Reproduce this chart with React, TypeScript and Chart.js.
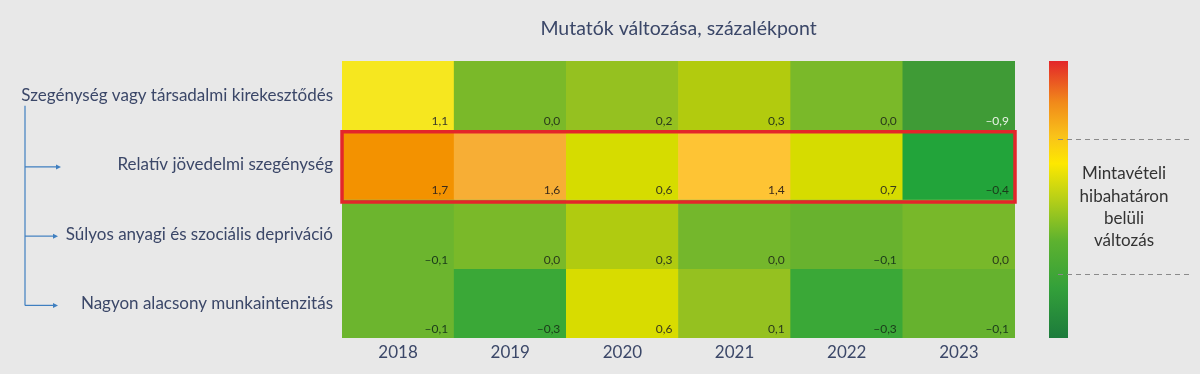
import React, { useEffect, useRef } from "react";
import { Chart, registerables } from "chart.js";

Chart.register(...registerables);

const chartTitle = "Mutatók változása, százalékpont";
const years = ["2018", "2019", "2020", "2021", "2022", "2023"];
const indicators = [
  "Szegénység vagy társadalmi kirekesztődés",
  "Relatív jövedelmi szegénység",
  "Súlyos anyagi és szociális depriváció",
  "Nagyon alacsony munkaintenzitás",
];
const povertyOrExclusion = [1.1, 0.0, 0.2, 0.3, 0.0, -0.9];
const relativeIncomePoverty = [1.7, 1.6, 0.6, 1.4, 0.7, -0.4];
const severeDeprivation = [-0.1, 0.0, 0.3, 0.0, -0.1, 0.0];
const lowWorkIntensity = [-0.1, -0.3, 0.6, 0.1, -0.3, -0.1];
const legendLines = ["Mintavételi", "hibahatáron", "belüli", "változás"];
const highlightedRow = 1;

const rowValues = [povertyOrExclusion, relativeIncomePoverty, severeDeprivation, lowWorkIntensity];

// cell fill colours
const rowColors = [
  ["#f6e71f", "#7ab929", "#95c120", "#b2cb0e", "#7ab929", "#3f9b36"],
  ["#f39200", "#f7ae35", "#d6dc00", "#fec434", "#d6dc00", "#22a43a"],
  ["#6cb52e", "#7ab929", "#b0cb10", "#74b72c", "#68b22e", "#78b82a"],
  ["#6cb52e", "#3aa837", "#d8dc00", "#95c120", "#3aa837", "#66b22e"],
];
const labelColors = [
  ["#3a3a2a", "#2a3a1a", "#2a3a1a", "#2a3a1a", "#2a3a1a", "#e8f2e4"],
  ["#3a2a1a", "#3a2a1a", "#3a3a1a", "#3a2a1a", "#3a3a1a", "#1a3a1a"],
  ["#1a3a1a", "#2a3a1a", "#2a3a1a", "#2a3a1a", "#1a3a1a", "#2a3a1a"],
  ["#1a3a1a", "#1a3a1a", "#3a3a1a", "#2a3a1a", "#1a3a1a", "#1a3a1a"],
];

const TEXT = "#3b4768";
const FONT = "Lato";

const fmt = (v: number) => {
  const s = Math.abs(v).toFixed(1).replace(".", ",");
  return v < 0 ? "\u2013" + s : s;
};

const overlayPlugin = {
  id: "overlay",
  afterDatasetsDraw(chart: any) {
    const ctx = chart.ctx;
    const ys = chart.scales.y;
    ctx.save();
    // value labels
    ctx.font = `12px ${FONT}`;
    ctx.textAlign = "right";
    ctx.textBaseline = "middle";
    rowValues.forEach((vals, r) => {
      const meta = chart.getDatasetMeta(r);
      meta.data.forEach((el: any, i: number) => {
        const p = el.getProps(["x", "y", "base", "width"], true);
        const right = p.x + p.width / 2;
        const bottom = Math.max(p.y, p.base);
        ctx.fillStyle = labelColors[r][i];
        ctx.fillText(fmt(vals[i]), right - 6, bottom - 9);
      });
    });
    // highlight box
    const a = chart.chartArea;
    const t = ys.getPixelForValue(highlightedRow);
    const b = ys.getPixelForValue(highlightedRow + 1);
    ctx.strokeStyle = "#e3262a";
    ctx.lineWidth = 3.5;
    ctx.strokeRect(a.left, t + 1.5, a.right - a.left, b - t + 1);
    ctx.restore();
  },
  afterDraw(chart: any) {
    const ctx = chart.ctx;
    const a = chart.chartArea;
    const ys = chart.scales.y;
    ctx.save();
    // title
    ctx.fillStyle = TEXT;
    ctx.font = `19.5px ${FONT}`;
    ctx.textAlign = "center";
    ctx.textBaseline = "middle";
    ctx.fillText(chartTitle, (a.left + a.right) / 2, 29);

    // tree connectors
    ctx.strokeStyle = "#3f7fc0";
    ctx.fillStyle = "#3f7fc0";
    ctx.lineWidth = 1.2;
    const vx = 25;
    const top = ys.getPixelForValue(0.5) + 10;
    const lastY = ys.getPixelForValue(indicators.length - 0.5) + 2;
    ctx.beginPath();
    ctx.moveTo(vx, top);
    ctx.lineTo(vx, lastY);
    ctx.stroke();
    for (let r = 1; r < indicators.length; r++) {
      const yy = ys.getPixelForValue(r + 0.5) + 2;
      const ex = r === 1 ? 61 : 58;
      ctx.beginPath();
      ctx.moveTo(vx, yy);
      ctx.lineTo(ex - 3, yy);
      ctx.stroke();
      ctx.beginPath();
      ctx.moveTo(ex, yy);
      ctx.lineTo(ex - 5, yy - 2.5);
      ctx.lineTo(ex - 5, yy + 2.5);
      ctx.closePath();
      ctx.fill();
    }

    // colour legend bar
    const bx = 1049;
    const bw = 19;
    const g = ctx.createLinearGradient(0, a.top, 0, a.bottom);
    g.addColorStop(0, "#e3262a");
    g.addColorStop(0.15, "#f18a1a");
    g.addColorStop(0.27, "#f9c21a");
    g.addColorStop(0.37, "#fde800");
    g.addColorStop(0.5, "#b6cf18");
    g.addColorStop(0.65, "#5db22f");
    g.addColorStop(0.82, "#33a03a");
    g.addColorStop(1, "#1c7b3c");
    ctx.fillStyle = g;
    ctx.fillRect(bx, a.top, bw, a.bottom - a.top);

    // dashed lines
    ctx.strokeStyle = "#8a8a8a";
    ctx.lineWidth = 1;
    ctx.setLineDash([5, 4]);
    [139.5, 274.5].forEach((yy) => {
      ctx.beginPath();
      ctx.moveTo(1058, yy);
      ctx.lineTo(1192, yy);
      ctx.stroke();
    });
    ctx.setLineDash([]);

    // legend text
    ctx.fillStyle = "#333333";
    ctx.font = `17px ${FONT}`;
    ctx.textAlign = "center";
    legendLines.forEach((l, i) => {
      ctx.fillText(l, 1124, 174 + i * 22.3);
    });
    ctx.restore();
  },
};

export default function App() {
  const ref = useRef<HTMLCanvasElement | null>(null);
  useEffect(() => {
    document.body.style.margin = "0";
    document.body.style.background = "#e8e8e8";
    const canvas = ref.current!;
    const chart = new Chart(canvas, {
      type: "bar",
      data: {
        labels: years,
        datasets: rowValues.map((vals, r) => ({
          label: indicators[r],
          data: vals.map(() => [r, r + 1]) as any,
          backgroundColor: rowColors[r],
          borderWidth: 0,
          barPercentage: 1,
          categoryPercentage: 1,
        })),
      },
      options: {
        animation: false,
        responsive: false,
        maintainAspectRatio: false,
        layout: { padding: { top: 61, right: 185, left: 0, bottom: 0 } },
        plugins: {
          legend: { display: false },
          tooltip: { enabled: false },
          title: { display: false },
        },
        scales: {
          x: {
            type: "category",
            stacked: true,
            offset: true,
            grid: { display: false, drawTicks: false },
            border: { display: false },
            ticks: { color: TEXT, font: { family: FONT, size: 17 }, padding: 4 },
            afterFit: (s: any) => {
              s.height = 36;
            },
          },
          y: {
            type: "linear",
            min: 0,
            max: indicators.length,
            reverse: true,
            stacked: false,
            grid: { display: false, drawTicks: false },
            border: { display: false },
            afterBuildTicks: (s: any) => {
              s.ticks = indicators.map((_, i) => ({ value: i + 0.5 }));
            },
            ticks: {
              autoSkip: false,
              color: TEXT,
              padding: 9,
              font: { family: FONT, size: 17 },
              callback: (v: any) => indicators[Math.round(Number(v) - 0.5)],
            },
            afterFit: (s: any) => {
              s.width = 342;
            },
          },
        },
      },
      plugins: [overlayPlugin],
    });
    return () => chart.destroy();
  }, []);
  return (
    <div style={{ width: 1200, height: 374, background: "#e8e8e8" }}>
      <canvas ref={ref} width={1200} height={374} style={{ display: "block" }} />
    </div>
  );
}
